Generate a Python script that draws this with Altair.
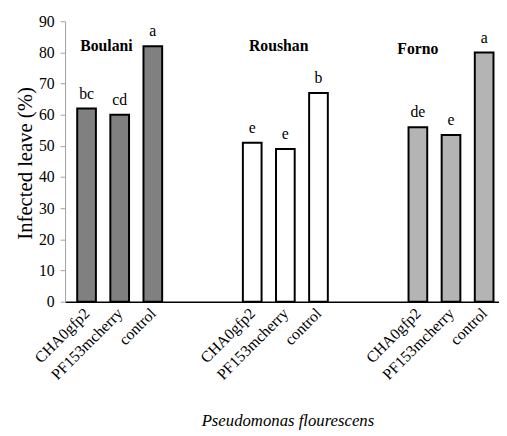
import altair as alt
import pandas as pd

groups = ["Boulani", "Roushan", "Forno"]
treatments = ["CHA0gfp2", "PF153mcherry", "control"]
values = [[62, 60, 82], [51, 49, 67], [56, 53.5, 80]]
letters = [["bc", "cd", "a"], ["e", "e", "b"], ["de", "e", "a"]]
group_colors = ["#808080", "#ffffff", "#b4b4b4"]
y_ticks = [0, 10, 20, 30, 40, 50, 60, 70, 80, 90]
# group title anchor (slot, value)
title_slot = [0.6, 5.8, 10.0]
title_val = [82, 82, 81.2]

rows = []
for g, grp in enumerate(groups):
    for t, tr in enumerate(treatments):
        rows.append({"group": grp, "treatment": tr, "pos": 5 * g + t,
                     "value": values[g][t], "letter": letters[g][t]})
df = pd.DataFrame(rows)
tdf = pd.DataFrame({"group": groups, "pos": title_slot, "value": title_val})

FONT = "Liberation Serif"
label_arr = "[" + ",".join("'%s'" % t for t in treatments) + "]"

xscale = alt.Scale(domain=[-0.5, 12.3], nice=False, zero=False)
yscale = alt.Scale(domain=[0, 90], nice=False)

x_axis = alt.Axis(
    values=[0, 1, 2, 5, 6, 7, 10, 11, 12],
    labelExpr=label_arr + "[datum.value % 5]",
    ticks=False, grid=False, domainColor="black", domainWidth=1.5,
    labelAngle=-45, labelAlign="right", labelBaseline="middle",
    labelPadding=9, labelFont=FONT, labelFontSize=16, labelColor="black",
    labelOverlap=False, labelFlush=False,
    title="Pseudomonas flourescens", titleFont=FONT, titleFontSize=17,
    titleFontStyle="italic", titleFontWeight="normal", titleColor="black",
    titleY=121, titleBaseline="middle", titleX=226)

y_axis = alt.Axis(
    values=y_ticks, tickCount=10, grid=False, domainColor="#a0a0a0", domainWidth=1,
    tickColor="#a0a0a0", tickSize=5, labelPadding=6, labelOverlap=False,
    labelFont=FONT, labelFontSize=16, labelColor="black",
    title="Infected leave  (%)", titleFont=FONT, titleFontSize=21,
    titleFontWeight="normal", titleColor="black",
    titleX=-40, titleY=144, titleAngle=-90, titleAlign="center",
    titleBaseline="middle")


def xe():
    return alt.X("pos:Q", scale=xscale, axis=x_axis)


def ye():
    return alt.Y("value:Q", scale=yscale, axis=y_axis)


bars = alt.Chart(df).mark_bar(size=19, stroke="black", strokeWidth=2).encode(
    x=xe(), y=ye(),
    fill=alt.Fill("group:N", scale=alt.Scale(domain=groups, range=group_colors),
                  legend=None))

letter_text = alt.Chart(df).mark_text(
    font=FONT, fontSize=16, baseline="bottom", dy=-7, color="black").encode(
    x=xe(), y=ye(), text="letter:N")

group_text = alt.Chart(tdf).mark_text(
    font=FONT, fontSize=16, fontWeight="bold", baseline="middle",
    align="center", color="black").encode(
    x=xe(), y=ye(), text="group:N")

chart = alt.layer(bars, letter_text, group_text).properties(
    width=441, height=285,
    autosize=alt.AutoSizeParams(type="none"),
    padding={"left": 58, "top": 10, "right": 0, "bottom": 130},
).configure_view(stroke=None).configure_axis(labelFont=FONT, titleFont=FONT)

chart.save("out.html", embed_options={"renderer": "svg", "actions": False})
